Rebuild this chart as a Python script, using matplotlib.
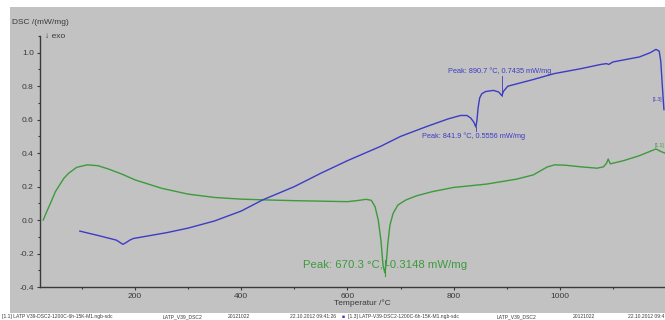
import matplotlib
matplotlib.use('Agg')
import matplotlib.pyplot as plt
from matplotlib.patches import Rectangle
from matplotlib.ticker import MultipleLocator

plt.rcParams['font.family'] = ['Liberation Sans', 'DejaVu Sans']

# green curve [1.1]
t_green = [27, 35, 42, 50, 58, 66, 75, 90, 110, 130, 150, 175, 200, 250, 300, 350, 400,
           450, 500, 550, 600, 620, 635, 645, 652, 658, 663, 667, 670.3, 673, 676, 680,
           686, 695, 710, 730, 760, 800, 862, 919, 950, 976, 990, 1010, 1040, 1070, 1082,
           1088, 1091, 1095, 1120, 1150, 1181, 1190, 1198]
dsc_green = [0.0, 0.06, 0.11, 0.17, 0.21, 0.25, 0.28, 0.315, 0.33, 0.325, 0.305, 0.275, 0.24,
             0.19, 0.155, 0.135, 0.125, 0.12, 0.116, 0.113, 0.11, 0.117, 0.124, 0.118, 0.08,
             0.0, -0.12, -0.27, -0.3148, -0.26, -0.14, -0.03, 0.04, 0.09, 0.12, 0.145, 0.17,
             0.195, 0.215, 0.245, 0.27, 0.317, 0.33, 0.328, 0.318, 0.31, 0.318, 0.34, 0.365,
             0.336, 0.355, 0.385, 0.425, 0.41, 0.40]

# blue curve [1.3]
t_blue = [96, 134, 165, 177, 183, 190, 197, 215, 260, 300, 350, 400, 440, 500, 550, 600, 662,
          700, 750, 790, 813, 825, 832, 838, 841.9, 844, 846, 849, 853, 860, 875, 885, 890.7,
          894, 902, 950, 989, 1040, 1077, 1088, 1092, 1100, 1150, 1170, 1181, 1187, 1190,
          1193, 1196]
dsc_blue = [-0.066, -0.095, -0.12, -0.145, -0.135, -0.12, -0.11, -0.1, -0.075, -0.048,
            -0.005, 0.054, 0.12, 0.2, 0.28, 0.355, 0.44, 0.5, 0.56, 0.605, 0.625, 0.625, 0.61,
            0.585, 0.5556, 0.6, 0.67, 0.73, 0.755, 0.768, 0.775, 0.765, 0.7435, 0.77, 0.8,
            0.84, 0.875, 0.905, 0.93, 0.935, 0.93, 0.945, 0.975, 1.0, 1.02, 1.01, 0.95, 0.8,
            0.66]

blue = '#3c3cc4'
green = '#3d9a3d'
grey = '#c2c2c2'
dark = '#3a3a3a'

fig = plt.figure(figsize=(6.65, 3.2), dpi=100)
fig.patch.set_facecolor('white')
fig.patches.append(Rectangle((10 / 665, 7 / 320), 1 - 10 / 665, 306 / 320,
                             transform=fig.transFigure, facecolor=grey,
                             edgecolor='none', zorder=-5))

ax = fig.add_axes([40 / 665, 33 / 320, 625 / 665, 251 / 320])
ax.set_facecolor('none')
ax.plot(t_green, dsc_green, color=green, lw=1.0)
ax.plot(t_blue, dsc_blue, color=blue, lw=1.0)

ax.set_xlim(21, 1198)
ax.set_ylim(-0.4, 1.1)
ax.xaxis.set_minor_locator(MultipleLocator(100))
ax.yaxis.set_minor_locator(MultipleLocator(0.1))
ax.set_xticks([200, 400, 600, 800, 1000])
ax.set_yticks([-0.4, -0.2, 0.0, 0.2, 0.4, 0.6, 0.8, 1.0])
ax.set_yticklabels(['-0.4', '-0.2', '0.0', '0.2', '0.4', '0.6', '0.8', '1.0'])
ax.tick_params(which='both', direction='out', colors=dark, labelsize=6, width=0.8)
ax.tick_params(which='major', length=2.5, pad=2)
ax.tick_params(axis='x', which='major', pad=1.5)
ax.tick_params(which='minor', length=1.5)
for s in ['top', 'right']:
    ax.spines[s].set_visible(False)
for s in ['left', 'bottom']:
    ax.spines[s].set_color(dark)
    ax.spines[s].set_linewidth(1.0)

# peak annotations
ax.plot([890.7, 890.7], [0.7435, 0.86], color=blue, lw=0.6)
ax.text(789, 0.887, 'Peak: 890.7 °C, 0.7435 mW/mg', color=blue, fontsize=5.3, va='center')
ax.plot([841.9, 841.9], [0.5556, 0.53], color=blue, lw=0.6)
ax.text(740, 0.504, 'Peak: 841.9 °C, 0.5556 mW/mg', color=blue, fontsize=5.3, va='center')
ax.plot([670.3, 670.3], [-0.24, -0.335], color=green, lw=0.8)
ax.text(516, -0.268, 'Peak: 670.3 °C, -0.3148 mW/mg', color=green, fontsize=8.2, va='center')
ax.text(1175, 0.72, '[1.3]', color=blue, fontsize=3.5, va='center')
ax.text(1179, 0.445, '[1.1]', color=green, fontsize=3.5, va='center')

fig.text(12 / 665, 1 - 23 / 320, 'DSC /(mW/mg)', fontsize=6, color=dark, va='center')
fig.text(45 / 665, 1 - 37 / 320, '↓ exo', fontsize=6, color=dark, va='center')
fig.text(362 / 665, 1 - 303.5 / 320, 'Temperatur /°C', fontsize=6, color=dark,
         va='center', ha='center')

# file strip at the bottom
strip = [(2, '[1.1] LATP V39-DSC2-1200C-6h-15K-M1.ngb-sdc', dark),
         (163, 'LATP_V39_DSC2', dark),
         (228, '20121022', dark),
         (290, '22.10.2012 09:41:26', dark),
         (342, '■', blue),
         (348, '[1.3] LATP-V39-DSC2-1200C-6h-15K-M1.ngb-sdc', dark),
         (497, 'LATP_V39_DSC2', dark),
         (573, '20121022', dark),
         (628, '22.10.2012 09:4', dark)]
for x, s, c in strip:
    fig.text(x / 665, 1 - 316.5 / 320, s, fontsize=3.6, color=c, va='center')

plt.savefig('out.png', dpi=100)
